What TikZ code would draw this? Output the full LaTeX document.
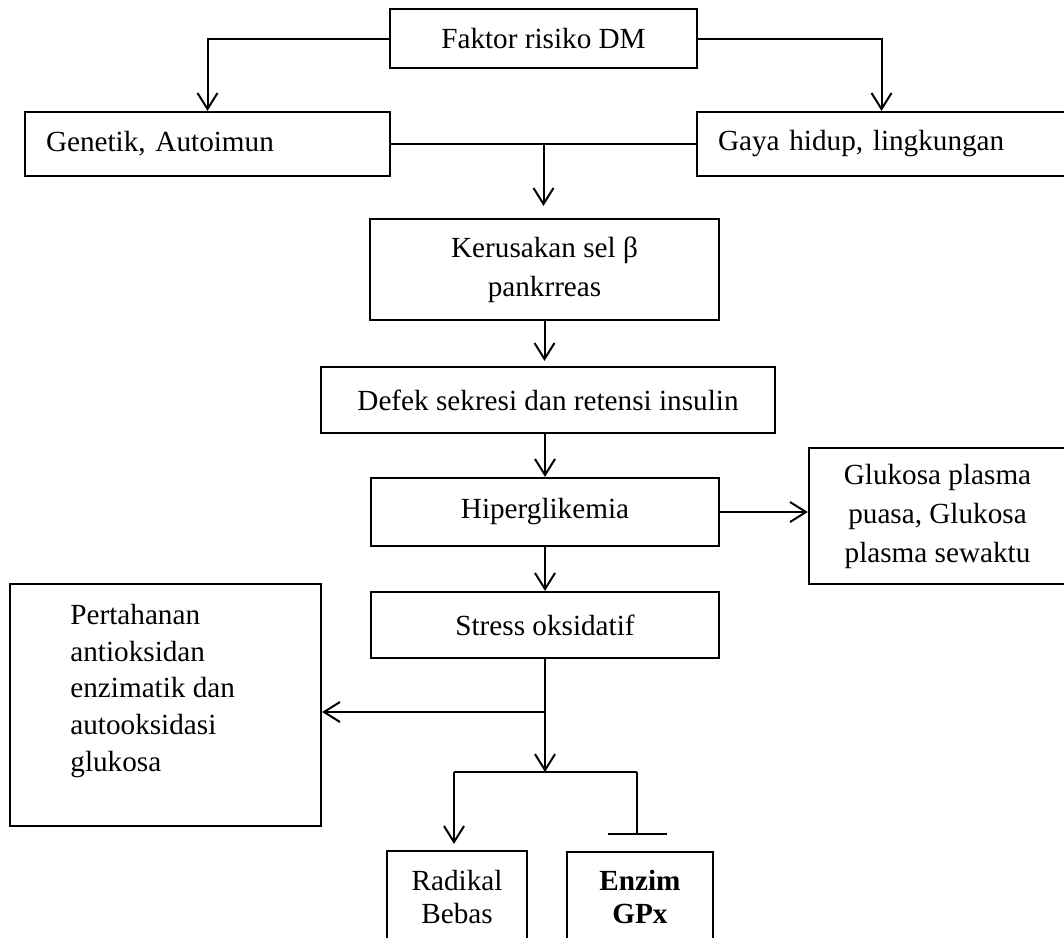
\documentclass[tikz,border=0pt]{standalone}
\usepackage{fontspec}
\setmainfont{Liberation Serif}
\usetikzlibrary{arrows.meta,calc,positioning}

\tikzset{
  box/.style={draw, line width=1.1pt, inner sep=0pt, align=center},
  link/.style={line width=1pt},
  flow/.style={link, -{Straight Barb[length=8pt,width=10pt]}},
}

\begin{document}
\begin{tikzpicture}[x=0.5pt,y=-0.5pt,font=\fontsize{14.6}{19.5}\selectfont]
		\clip (0,0) rectangle (1064,937);
		% boxes
		\node[box, minimum width=153.5pt, minimum height=29.5pt] (faktor) at (543.5,38.5) {Faktor risiko DM};
		\node[box, minimum width=182.5pt, minimum height=32pt, text width=161.5pt, inner xsep=10.5pt, align=left] (genetik) at (207.5,144) {Genetik, Autoimun};
		\node[box, minimum width=184.5pt, minimum height=32pt, text width=163.5pt, inner xsep=10.5pt, align=left] (gaya) at (881.5,144) {Gaya hidup, lingkungan};
		\node[box, minimum width=174.5pt, minimum height=50.5pt] (kerusakan) at (544.5,269.5) {Kerusakan sel β\\pankrreas};
		\node[box, minimum width=227pt, minimum height=33pt] (defek) at (548,400) {Defek sekresi dan retensi insulin};
		\node[box, minimum width=174pt, minimum height=34pt] (hiper) at (545,512) {Hiperglikemia};
		\node[box, minimum width=128.5pt, minimum height=68pt] (glukosa) at (937.5,516) {Glukosa plasma\\puasa, Glukosa\\plasma sewaktu};
		\node[box, minimum width=174pt, minimum height=33pt] (stress) at (545,625) {Stress oksidatif};
		\node[box, minimum width=155.5pt, minimum height=121pt] (pert) at (165.5,705) {};
		\node[anchor=north west, align=left, inner sep=0pt, font=\fontsize{14.6}{18.3}\selectfont] (pertText) at (70,604) {Pertahanan\\antioksidan\\enzimatik dan\\autooksidasi\\glukosa};
		\node[box, minimum width=70pt, minimum height=45.5pt, font=\fontsize{14.6}{16.5}\selectfont] (radikal) at (457,896.5) {Radikal\\Bebas};
		\node[box, minimum width=73pt, minimum height=45pt, font=\fontsize{14.6}{16.5}\selectfont\bfseries] (enzim) at (640,897) {Enzim\\GPx};
		
		\coordinate (mid) at ($(genetik.east)!0.5!(gaya.west)$);
		\coordinate (split) at (545,712);
		\coordinate (fork) at (545,772);
		\coordinate (forkL) at (454,772);
		\coordinate (forkR) at (637,772);
		\coordinate (inhib) at (637,835);
		
		% connectors
		\draw[flow] (faktor.west) -| (genetik.north);
		\draw[flow] (faktor.east) -| (gaya.north);
		\draw[link] (genetik.east) -- (gaya.west);
		\draw[flow, shorten >=6pt] (mid) -- (mid |- kerusakan.north);
		\draw[flow, shorten >=2.5pt] (kerusakan.south) -- (kerusakan.south |- defek.north);
		\draw[flow] (hiper.north |- defek.south) -- (hiper.north);
		\draw[flow] (hiper.east) -- (hiper.east -| glukosa.west);
		\draw[flow] (hiper.south) -- (stress.north);
		\draw[link] (stress.south) -- (split);
		\draw[flow] (split) -- (split -| pert.east);
		\draw[flow] (split) -- (fork);
		\draw[link] (forkL) -- (forkR);
		\draw[flow, shorten >=3pt] (forkL) -- (forkL |- radikal.north);
		\draw[link, -{Bar[width=29.5pt]}] (forkR) -- (inhib);
\end{tikzpicture}
\end{document}
